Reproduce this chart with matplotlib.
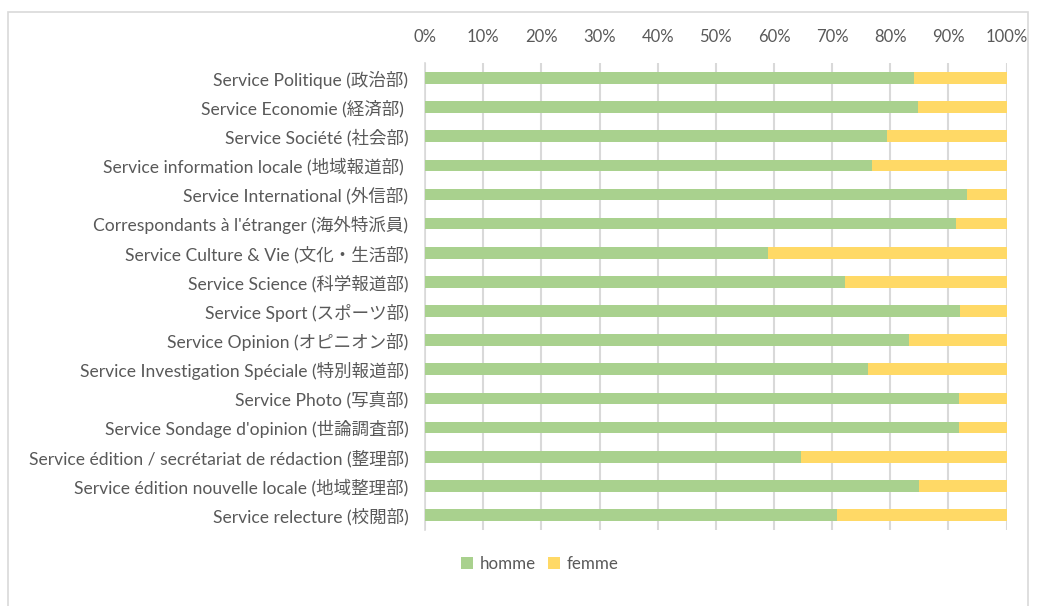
import matplotlib
matplotlib.use("Agg")
import matplotlib.pyplot as plt
from matplotlib.patches import Rectangle
from matplotlib.ticker import PercentFormatter

# data, top to bottom as in the chart
services = [
    "Service Politique (政治部)",
    "Service Economie (経済部) ",
    "Service Société (社会部)",
    "Service information locale (地域報道部) ",
    "Service International (外信部)",
    "Correspondants à l'étranger (海外特派員)",
    "Service Culture & Vie (文化・生活部)",
    "Service Science (科学報道部)",
    "Service Sport (スポーツ部)",
    "Service Opinion (オピニオン部)",
    "Service Investigation Spéciale (特別報道部)",
    "Service Photo (写真部)",
    "Service Sondage d'opinion (世論調査部)",
    "Service édition / secrétariat de rédaction (整理部)",
    "Service édition nouvelle locale (地域整理部)",
    "Service relecture (校閲部)",
]
homme = [84.1, 84.8, 79.5, 76.9, 93.2, 91.3, 58.9, 72.2,
         92.0, 83.3, 76.2, 91.8, 91.8, 64.7, 85.0, 70.9]
femme = [100 - h for h in homme]

GREEN = "#a9d18e"
YELLOW = "#ffd966"
TXT = "#595959"
GRID = "#d9d9d9"
FONT = ["Lato", "Noto Sans CJK JP", "DejaVu Sans"]

plt.rcParams["font.family"] = FONT

fig = plt.figure(figsize=(10.42, 6.06), dpi=100)
ax = fig.add_axes([0.408, 0.1262, 0.558, 0.7692])

ypos = list(range(len(services)))
ax.barh(ypos, homme, height=0.4, color=GREEN, label="homme", zorder=3)
ax.barh(ypos, femme, left=homme, height=0.4, color=YELLOW, label="femme", zorder=3)

ax.set_xlim(0, 100)
ax.set_ylim(len(services) - 0.5, -0.5)
ax.set_yticks(ypos)
ax.set_yticklabels(services, fontsize=12.6, color=TXT)
ax.set_xticks(range(0, 101, 10))
ax.xaxis.set_major_formatter(PercentFormatter(decimals=0))
ax.xaxis.tick_top()
ax.tick_params(axis="x", labelsize=12, colors=TXT, length=0, pad=13)
ax.tick_params(axis="y", length=0, pad=12)
ax.grid(axis="x", color=GRID, linewidth=1.5, zorder=0)
for s in ["top", "right", "bottom"]:
    ax.spines[s].set_visible(False)
ax.spines["left"].set_color(GRID)
ax.spines["left"].set_linewidth(1.2)

fig.legend(loc="center", bbox_to_anchor=(540 / 1042, 1 - 564 / 606), ncol=2,
           frameon=False, fontsize=12.2, labelcolor=TXT, handlelength=0.7,
           handleheight=0.7, handletextpad=0.4, columnspacing=0.7)

# chart area border
fig.patches.append(Rectangle((8 / 1042, -0.05), 1020 / 1042, 1.05 - 12 / 606,
                             transform=fig.transFigure, fill=False,
                             edgecolor=GRID, linewidth=1.2))

fig.savefig("out.png", dpi=100)
